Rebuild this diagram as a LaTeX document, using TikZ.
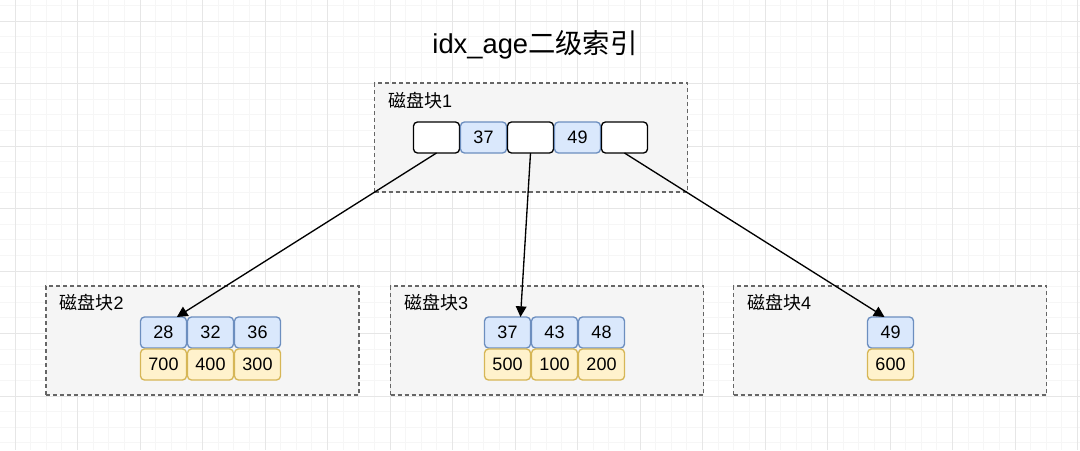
\documentclass[tikz,border=0pt]{standalone}
\usepackage{fontspec}
\setmainfont{Liberation Sans}
\newfontfamily\cjk{Noto Sans CJK SC}
\usepackage{tikz}
\usetikzlibrary{arrows.meta, positioning}

\definecolor{gridminor}{HTML}{F6F6F6}
\definecolor{gridmajor}{HTML}{E6E6E6}
\definecolor{blkfill}{HTML}{F5F5F5}
\definecolor{blkline}{HTML}{666666}
\definecolor{keyfill}{HTML}{DAE8FC}
\definecolor{keyline}{HTML}{6C8EBF}
\definecolor{valfill}{HTML}{FFF2CC}
\definecolor{valline}{HTML}{D6B656}

\begin{document}
\begin{tikzpicture}[x=0.75pt, y=-0.75pt,
  blk/.style={draw=blkline, fill=blkfill, line width=1pt, dash pattern=on 3pt off 2.25pt, minimum width=234.75pt, minimum height=81.75pt, inner sep=0pt},
  lbl/.style={anchor=west, inner sep=0pt, font=\fontsize{13.5}{16}\selectfont},
  cell/.style={rounded corners=3pt, line width=1pt, minimum width=34.5pt, minimum height=23.25pt, inner sep=0pt, outer sep=0pt, font=\fontsize{13.5}{16}\selectfont},
  ptr/.style={cell, draw=black, fill=white},
  key/.style={cell, draw=keyline, fill=keyfill},
  val/.style={cell, draw=valline, fill=valfill},
  arr/.style={-{Triangle[length=8pt, width=8pt]}, line width=1pt},
  node distance=0.75pt
]
\useasboundingbox (0,0) rectangle (1080,450);
\fill[white] (0,0) rectangle (1080,450);

% grid
\foreach \i in {0,...,69} \draw[gridminor, line width=0.75pt] ({-0.625+\i*15.625},0) -- ++(0,450);
\foreach \i in {0,...,28} \draw[gridminor, line width=0.75pt] (0,{5.375+\i*15.625}) -- ++(1080,0);
\foreach \i in {0,...,17} \draw[gridmajor, line width=0.75pt] ({15+\i*62.5},0) -- ++(0,450);
\foreach \i in {0,...,7} \draw[gridmajor, line width=0.75pt] (0,{21+\i*62.5}) -- ++(1080,0);

\node[font=\fontsize{20.5}{24}\selectfont] (title) at (535,45) {idx\_age{\cjk 二级索引}};

% disk blocks
\node[blk] (b1) at (531,137.5) {};
\node[blk] (b2) at (202.5,340.5) {};
\node[blk] (b3) at (547,340.5) {};
\node[blk] (b4) at (890,340.5) {};

\node[lbl] (l1) at ([shift={(14,18)}]b1.north west) {{\cjk 磁盘块}1};
\node[lbl] (l2) at ([shift={(14,17.5)}]b2.north west) {{\cjk 磁盘块}2};
\node[lbl] (l3) at ([shift={(14,17.5)}]b3.north west) {{\cjk 磁盘块}3};
\node[lbl] (l4) at ([shift={(14,17.5)}]b4.north west) {{\cjk 磁盘块}4};

% root
\node[ptr] (p1) at (436.5,137.5) {};
\node[key, right=of p1] (k11) {37};
\node[ptr, right=of k11] (p2) {};
\node[key, right=of p2] (k12) {49};
\node[ptr, right=of k12] (p3) {};

% leaves
\node[key] (k21) at (163.5,332.5) {28};
\node[key, right=of k21] (k22) {32};
\node[key, right=of k22] (k23) {36};
\node[val, below=of k21] (v21) {700};
\node[val, below=of k22] (v22) {400};
\node[val, below=of k23] (v23) {300};

\node[key] (k31) at (507.5,332.5) {37};
\node[key, right=of k31] (k32) {43};
\node[key, right=of k32] (k33) {48};
\node[val, below=of k31] (v31) {500};
\node[val, below=of k32] (v32) {100};
\node[val, below=of k33] (v33) {200};

\node[key] (k41) at (890.5,332.5) {49};
\node[val, below=of k41] (v41) {600};

\draw[arr] (p1.south) -- ([xshift=10pt]k21.north);
\draw[arr] (p2.south) -- ([xshift=9.75pt]k31.north);
\draw[arr] (p3.south) -- ([xshift=-4.5pt]k41.north);
\end{tikzpicture}
\end{document}
